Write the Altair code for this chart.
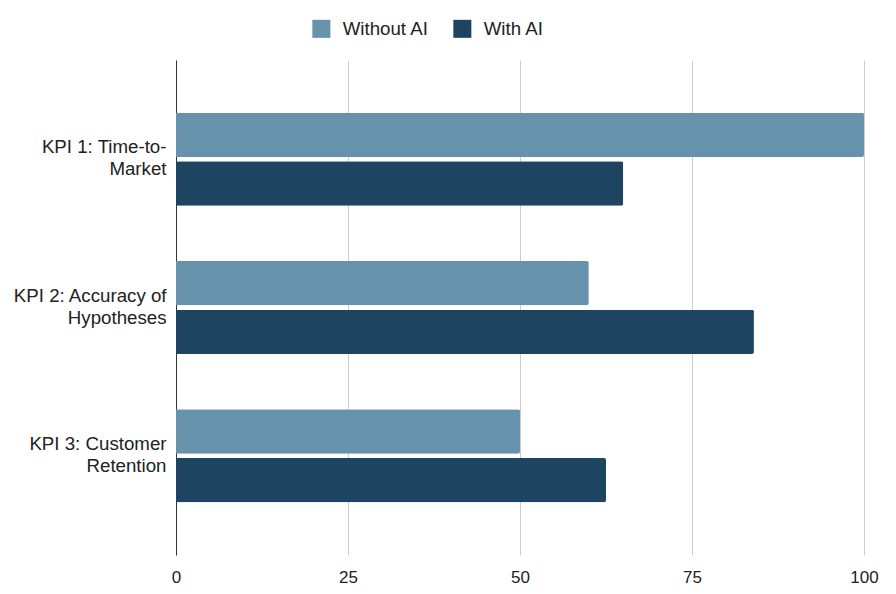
import altair as alt
import pandas as pd

categories = ["KPI 1: Time-to-Market", "KPI 2: Accuracy of Hypotheses", "KPI 3: Customer Retention"]
label_lines = [["KPI 1: Time-to-", "Market"], ["KPI 2: Accuracy of", "Hypotheses"], ["KPI 3: Customer", "Retention"]]
series = ["Without AI", "With AI"]
without_ai = [100, 60, 50]
with_ai = [65, 84, 62.5]
colors = ["#6692ab", "#1d4461"]

rows = []
for c, a, b in zip(categories, without_ai, with_ai):
    rows.append({"KPI": c, "Series": series[0], "Value": a})
    rows.append({"KPI": c, "Series": series[1], "Value": b})
df = pd.DataFrame(rows)

expr = "".join(
    f"datum.label == '{c}' ? {lines!r} : " for c, lines in zip(categories, label_lines)
) + "datum.label"

font = "Liberation Sans"

chart = alt.Chart(df).mark_bar(cornerRadiusEnd=2).encode(
    y=alt.Y("KPI:N", sort=categories, title=None,
            scale=alt.Scale(paddingInner=0.373, paddingOuter=0.355),
            axis=alt.Axis(labelExpr=expr, labelFontSize=18.7, labelLineHeight=22,
                          labelColor="#222", labelFont=font, ticks=False,
                          domainColor="#333", domainWidth=1, labelPadding=10,
                          labelOffset=-12, labelLimit=300, grid=False)),
    yOffset=alt.YOffset("Series:N", sort=series, scale=alt.Scale(paddingInner=0.09)),
    x=alt.X("Value:Q", title=None, scale=alt.Scale(domain=[0, 100], nice=False),
            axis=alt.Axis(values=[0, 25, 50, 75, 100], labelFontSize=17, labelFont=font,
                          labelColor="#222", domain=False, ticks=False, labelPadding=14,
                          labelFlush=False,
                          grid=True, gridColor="#cccccc", gridWidth=1)),
    color=alt.Color("Series:N", sort=series,
                    scale=alt.Scale(domain=series, range=colors),
                    legend=alt.Legend(title=None, orient="none", direction="horizontal",
                                      legendX=136, legendY=-41, symbolType="square",
                                      symbolSize=324, symbolStrokeWidth=0,
                                      labelFontSize=18.7, labelFont=font, labelColor="#222",
                                      labelOffset=12, columnPadding=24, padding=0)),
).properties(
    width=688, height=495,
    autosize=alt.AutoSizeParams(type="none"),
    padding={"left": 168, "top": 52, "right": 24, "bottom": 30},
).configure_view(stroke=None)

chart.save("out.html", embed_options={"renderer": "svg", "actions": False})
